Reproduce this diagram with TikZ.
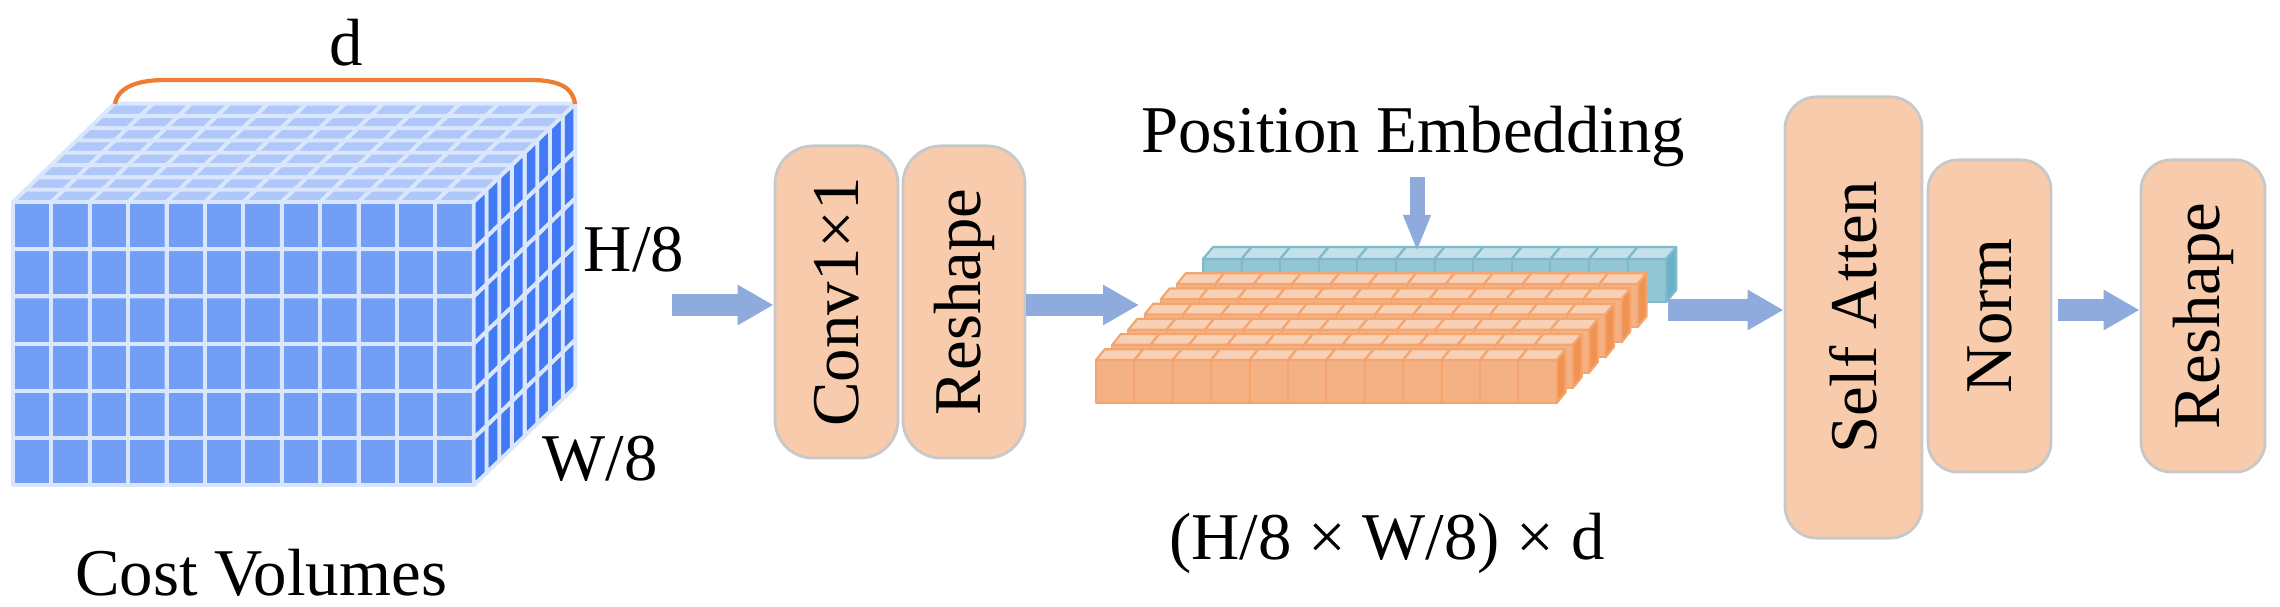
\documentclass[tikz,border=0pt]{standalone}
\usepackage{fontspec}
\setmainfont{Liberation Serif}
\usetikzlibrary{arrows.meta}
\definecolor{bF}{HTML}{729EF6}\definecolor{bT}{HTML}{AFC7F9}\definecolor{bS}{HTML}{4279F4}\definecolor{bE}{HTML}{D9E6FB}
\definecolor{oF}{HTML}{F4B183}\definecolor{oT}{HTML}{F8D0B5}\definecolor{oS}{HTML}{F09350}\definecolor{oE}{HTML}{F4A46E}
\definecolor{tF}{HTML}{93C6D4}\definecolor{tT}{HTML}{C4E0E8}\definecolor{tS}{HTML}{6AB0C8}\definecolor{tE}{HTML}{7FBACB}
\definecolor{boxF}{HTML}{F7CBAC}\definecolor{boxE}{HTML}{C8C8C8}\definecolor{arr}{HTML}{8FAADC}\definecolor{brc}{HTML}{ED7D31}
\newcommand\mycub[9]{%
 \filldraw[fill=#7] (#1,#2) rectangle (#1+#3,#2+#4);
 \filldraw[fill=#8] (#1,#2) -- (#1+#5,#2+#6) -- (#1+#3+#5,#2+#6) -- (#1+#3,#2) -- cycle;
 \filldraw[fill=#9] (#1+#3,#2) -- (#1+#3+#5,#2+#6) -- (#1+#3+#5,#2+#6+#4) -- (#1+#3,#2+#4) -- cycle;}
\tikzset{
 box/.style={draw=boxE,fill=boxF,line width=0.8pt,inner sep=0pt},
 lbl/.style={font=\fontsize{19}{22}\selectfont,inner sep=0pt},
 bigarr/.style={draw=arr,line width=0.21cm,-{Triangle[length=0.36cm,width=0.38cm]}},
 downarr/.style={draw=arr,line width=0.15cm,-{Triangle[length=0.37cm,width=0.25cm]}}
}
\begin{document}
\begin{tikzpicture}[x=0.01cm,y=-0.01cm]
\useasboundingbox (0,0) rectangle (2280,607);
% cost volume cube
\begin{scope}[draw=bE,line width=1.1pt,line join=round]
\foreach \k in {7,...,0}{
 \foreach \r in {5,...,0}{
  \foreach \c in {0,...,11}{
   \pgfmathsetmacro\xx{13+12.7*\k+38.4*\c}
   \pgfmathsetmacro\yy{202-12.3*\k+47.2*\r}
   \mycub{\xx}{\yy}{38.4}{47.2}{12.7}{-12.3}{bF}{bT}{bS}
 }}}
\end{scope}
\draw[brc,line width=1.2pt] (115,104) .. controls (118,86) and (140,80) .. (165,80) -- (530,80) .. controls (560,80) and (573,88) .. (575,104);
\node[lbl] (d) at (346,43) {d};
\node[lbl] (h8) at (634,250) {H/8};
\node[lbl] (w8) at (600,459) {W/8};
\node[lbl] (cv) at (261,573) {Cost Volumes};
% boxes
\node[box,minimum width=1.23cm,minimum height=3.12cm,rounded corners=0.38cm] (conv) at (836.5,302) {\rotatebox{90}{\fontsize{19}{22}\selectfont Conv1×1}};
\node[box,minimum width=1.22cm,minimum height=3.12cm,rounded corners=0.38cm] (rs1) at (964,302) {\rotatebox{90}{\fontsize{19}{22}\selectfont Reshape}};
\node[box,minimum width=1.37cm,minimum height=4.41cm,rounded corners=0.32cm] (sa) at (1853.5,317.5) {\rotatebox{90}{\fontsize{19}{22}\selectfont Self Atten}};
\node[box,minimum width=1.23cm,minimum height=3.12cm,rounded corners=0.3cm] (norm) at (1989.5,316) {\rotatebox{90}{\fontsize{19}{22}\selectfont Norm}};
\node[box,minimum width=1.24cm,minimum height=3.12cm,rounded corners=0.3cm] (rs2) at (2203,316) {\rotatebox{90}{\fontsize{19}{22}\selectfont Reshape}};
% teal position embedding bar
\begin{scope}[draw=tE,line width=0.6pt,line join=round]
\foreach \c in {0,...,11}{
 \pgfmathsetmacro\xx{1203+38.6*\c}
 \mycub{\xx}{259}{38.6}{43}{10}{-12}{tF}{tT}{tS}
}
\end{scope}
% orange slab
\begin{scope}[draw=oE,line width=0.6pt,line join=round]
\foreach \k in {5,...,0}{
 \foreach \c in {0,...,11}{
  \pgfmathsetmacro\xx{1096+16.2*\k+38.4*\c}
  \pgfmathsetmacro\yy{360-15.2*\k}
  \mycub{\xx}{\yy}{38.4}{43}{8.7}{-10.7}{oF}{oT}{oS}
 }}
\end{scope}
\node[lbl] (pe) at (1413,137) {Position Embedding};
\node[lbl] (dim) at (1387,543) {(H/8 × W/8) × d};
% arrows
\coordinate (a1) at (672,305);
\coordinate (slabL) at (1139,305);
\coordinate (slabR) at (1668,310);
\coordinate (peT) at (1417,177);
\coordinate (peB) at (1417,252);
\draw[bigarr] (a1) -- (a1 -| conv.west);
\draw[bigarr] (rs1.east |- slabL) -- (slabL);
\draw[bigarr] (slabR) -- (slabR -| sa.west);
\draw[bigarr] (norm.east |- slabR) ++(6,0) coordinate (n1) (n1) -- (n1 -| rs2.west);
\draw[downarr] (peT) -- (peB);
\end{tikzpicture}
\end{document}
